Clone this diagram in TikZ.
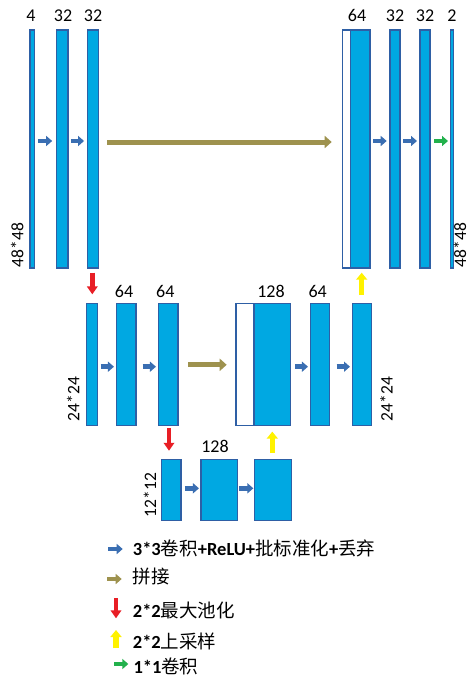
\documentclass[tikz,border=0pt]{standalone}
\usepackage{fontspec}
\setmainfont{Carlito}
\newfontfamily\cjk{Noto Sans CJK SC}
\usetikzlibrary{arrows.meta}
\definecolor{barfill}{RGB}{0,168,226}
\definecolor{barline}{RGB}{46,95,165}
\definecolor{convblue}{RGB}{58,110,178}
\definecolor{catolive}{RGB}{158,146,78}
\definecolor{poolred}{RGB}{232,30,37}
\definecolor{upyellow}{RGB}{255,242,0}
\definecolor{onegreen}{RGB}{34,177,76}
\tikzset{
  bar/.style={draw=barline, fill=barfill, line width=1.1pt, inner sep=0pt, outer sep=0pt},
  catbar/.style={bar, fill=white},
  toprow/.style={minimum height=238pt},
  midrow/.style={minimum height=121.7pt},
  botrow/.style={minimum height=60.7pt},
  lbl/.style={font=\fontsize{18}{21}\selectfont, inner sep=0pt, anchor=base},
  side/.style={font=\fontsize{17.5}{21}\selectfont, inner sep=0pt, text depth=0pt, anchor=base, rotate=90},
  legtext/.style={font=\fontsize{18.5}{22}\selectfont, inner sep=0pt, anchor=base west},
  conv/.style={draw=convblue, line width=4.5pt, -{Triangle[length=6pt,width=10pt]}},
  concat/.style={draw=catolive, line width=5pt, -{Triangle[length=7pt,width=12pt]}},
  pool/.style={draw=poolred, line width=4.5pt, -{Triangle[length=8pt,width=10.5pt]}},
  upsam/.style={draw=upyellow, line width=5.5pt, -{Triangle[length=7pt,width=11pt]}},
  onebyone/.style={draw=onegreen, line width=4.5pt, -{Triangle[length=6pt,width=10pt]}},
}
\begin{document}
\begin{tikzpicture}[x=1pt,y=-1pt]
\useasboundingbox[fill=white] (0,0) rectangle (470,678);

% ---- top row ----
\node[bar, toprow, minimum width=4.5pt] (t1) at (32.2,149) {};
\node[bar, toprow, minimum width=11.3pt] (t2) at (62.3,149) {};
\node[bar, toprow, minimum width=10.7pt] (t3) at (92.7,149) {};
\node[catbar, toprow, minimum width=8pt] (t4w) at (346.7,149) {};
\node[bar, toprow, minimum width=19.3pt] (t4) at (360.35,149) {};
\node[bar, toprow, minimum width=10pt] (t5) at (395,149) {};
\node[bar, toprow, minimum width=10pt] (t6) at (425,149) {};
\node[bar, toprow, minimum width=3pt] (t7) at (452,149) {};

% ---- middle row ----
\node[bar, midrow, minimum width=10.6pt] (m1) at (92,364.2) {};
\node[bar, midrow, minimum width=19.3pt] (m2) at (126.3,364.2) {};
\node[bar, midrow, minimum width=19.3pt] (m3) at (168.3,364.2) {};
\node[catbar, midrow, minimum width=18pt] (m4w) at (245,364.2) {};
\node[bar, midrow, minimum width=36.7pt] (m4) at (272.35,364.2) {};
\node[bar, midrow, minimum width=18.7pt] (m5) at (320,364.2) {};
\node[bar, midrow, minimum width=19pt] (m6) at (362.2,364.2) {};

% ---- bottom row ----
\node[bar, botrow, minimum width=19.3pt] (b1) at (171.3,489.7) {};
\node[bar, botrow, minimum width=36.7pt] (b2) at (219.3,489.7) {};
\node[bar, botrow, minimum width=37.3pt] (b3) at (273,489.7) {};

% ---- channel labels ----
\node[lbl] (lt1) at (31,21) {4};
\node[lbl] (lt2) at (63,21) {32};
\node[lbl] (lt3) at (93,21) {32};
\node[lbl] (lt4) at (357,21) {64};
\node[lbl] (lt5) at (395,21) {32};
\node[lbl] (lt6) at (425,21) {32};
\node[lbl] (lt7) at (452,21) {2};
\node[lbl] (lm2) at (124,297) {64};
\node[lbl] (lm3) at (165.3,297) {64};
\node[lbl] (lm4) at (271,297) {128};
\node[lbl] (lm5) at (317.7,297) {64};
\node[lbl] (lb2) at (215,452) {128};

% ---- size labels ----
\node[side] (s1) at (23.3,245) {48*48};
\node[side] (s2) at (466,245) {48*48};
\node[side] (s3) at (79.3,399) {24*24};
\node[side] (s4) at (392.7,399) {24*24};
\node[side] (s5) at (156,495) {12*12};

% ---- top row connectors ----
\draw[conv] ([xshift=3.5pt,yshift=8pt]t1.east) -- ([xshift=-4.5pt,yshift=8pt]t2.west);
\draw[conv] ([xshift=3pt,yshift=8pt]t2.east) -- ([xshift=-3.3pt,yshift=8pt]t3.west);
\draw[concat] ([xshift=9pt,yshift=7pt]t3.east) -- ([xshift=-11pt,yshift=7pt]t4w.west);
\draw[conv] ([xshift=3pt,yshift=8pt]t4.east) -- ([xshift=-3.3pt,yshift=8pt]t5.west);
\draw[conv] ([xshift=3pt,yshift=8pt]t5.east) -- ([xshift=-3pt,yshift=8pt]t6.west);
\draw[onebyone] ([xshift=4pt,yshift=8pt]t6.east) -- ([xshift=-2.5pt,yshift=8pt]t7.west);

% ---- middle row connectors ----
\draw[conv] ([xshift=3.4pt,yshift=-2.5pt]m1.east) -- ([xshift=-2.7pt,yshift=-2.5pt]m2.west);
\draw[conv] ([xshift=6.7pt,yshift=-2.5pt]m2.east) -- ([xshift=-2.7pt,yshift=-2.5pt]m3.west);
\draw[concat] ([xshift=10.3pt,yshift=-0.6pt]m3.east) -- ([xshift=-9.3pt,yshift=-0.6pt]m4w.west);
\draw[conv] ([xshift=4.3pt,yshift=-2.5pt]m4.east) -- ([xshift=-2.7pt,yshift=-2.5pt]m5.west);
\draw[conv] ([xshift=7.3pt,yshift=-2.5pt]m5.east) -- ([xshift=-2.7pt,yshift=-2.5pt]m6.west);

% ---- bottom row connectors ----
\draw[conv] ([xshift=4pt,yshift=1.4pt]b1.east) -- ([xshift=-2pt,yshift=1.4pt]b2.west);
\draw[conv] ([xshift=1.7pt,yshift=1.4pt]b2.east) -- ([xshift=-1pt,yshift=1.4pt]b3.west);

% ---- pooling / upsampling ----
\draw[pool, shorten <=4.7pt, shorten >=9pt] ([xshift=-0.4pt]t3.south) -- ([xshift=-0.4pt]t3.south |- m1.north);
\draw[pool, shorten <=3pt, shorten >=8.6pt] ([xshift=0.7pt]m3.south) -- ([xshift=0.7pt]m3.south |- b1.north);
\draw[upsam, shorten <=6.6pt, shorten >=6.6pt] ([xshift=-0.7pt]b3.north) -- ([xshift=-0.7pt]b3.north |- m4.south);
\draw[upsam, shorten <=8.3pt, shorten >=4.7pt] ([xshift=-0.5pt]m6.north) -- ([xshift=-0.5pt]m6.north |- t4.south);

% ---- legend ----
\coordinate (g1a) at (108.3,549); \coordinate (g1b) at (122.7,549);
\coordinate (g2a) at (107,579);   \coordinate (g2b) at (121.7,579);
\coordinate (g3a) at (116,598.3); \coordinate (g3b) at (116,618.3);
\coordinate (g4a) at (116,648.3); \coordinate (g4b) at (116,630);
\coordinate (g5a) at (114,664);   \coordinate (g5b) at (128.3,664);
\draw[conv] (g1a) -- (g1b);
\draw[concat, line width=4.5pt, -{Triangle[length=6pt,width=10pt]}] (g2a) -- (g2b);
\draw[pool] (g3a) -- (g3b);
\draw[upsam] (g4a) -- (g4b);
\draw[onebyone] (g5a) -- (g5b);
\node[legtext] (lg1) at (132.7,555) {\bfseries 3*3{\cjk\mdseries 卷积}+ReLU+{\cjk\mdseries 批标准化}+{\cjk\mdseries 丢弃}};
\node[legtext] (lg2) at (132.7,583.7) {\cjk 拼接};
\node[legtext] (lg3) at (132.7,617.7) {\bfseries 2*2{\cjk\mdseries 最大池化}};
\node[legtext] (lg4) at (132.7,648.3) {\bfseries 2*2{\cjk\mdseries 上采样}};
\node[legtext] (lg5) at (133.3,673.5) {\bfseries 1*1{\cjk\mdseries 卷积}};
\end{tikzpicture}
\end{document}
